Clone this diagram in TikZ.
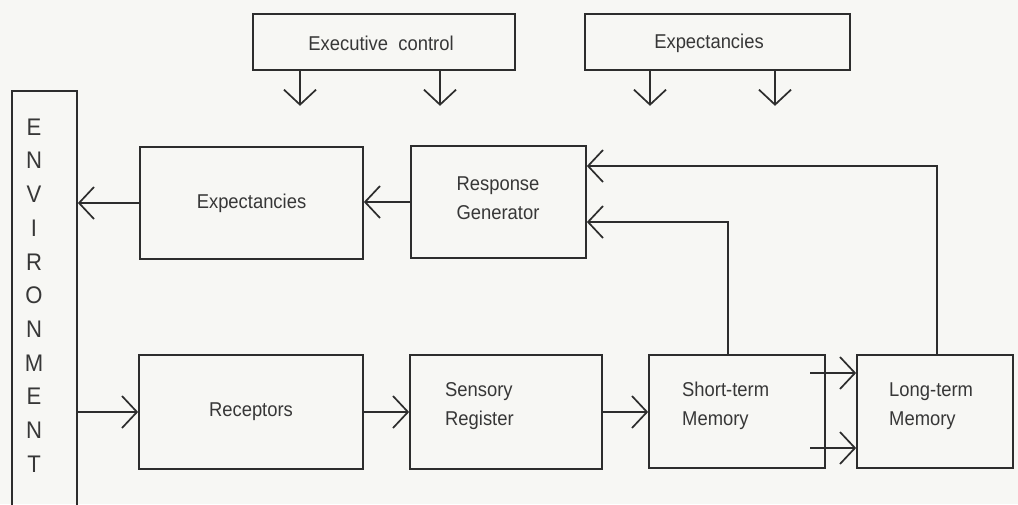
\documentclass[tikz,border=0pt]{standalone}
\usepackage{fontspec}
\setmainfont{Liberation Sans}[FakeStretch=0.92]
\usetikzlibrary{arrows.meta,calc}
\definecolor{ink}{RGB}{45,45,45}
\definecolor{txt}{RGB}{55,55,55}
\definecolor{paper}{RGB}{247,247,244}
\begin{document}
\begin{tikzpicture}[x=1pt,y=-1pt,
  box/.style={draw=ink, line width=1.7pt, inner sep=0pt, text=txt,
    font=\fontsize{20}{29}\selectfont, align=center},
  lbl/.style={text=txt, font=\fontsize{20}{29}\selectfont, inner sep=0pt, align=left},
  clbl/.style={lbl, align=center},
  envlbl/.style={text=txt, font=\fontsize{24}{33.7}\selectfont, inner sep=0pt, align=center},
  arr/.style={draw=ink, line width=1.7pt, -{Straight Barb[length=15pt,width=32pt]}}]

% page
\useasboundingbox (0,0) rectangle (1018,504);
\fill[paper] (0,0) rectangle (1018,504);
\clip (0,0) rectangle (1018,504);

% top row: control sources
\node[box, minimum width=262pt, minimum height=56pt] (exec) at (384,42) {};
\node[clbl] (exectxt) at (381,43) {Executive\ \ control};
\node[box, minimum width=265pt, minimum height=56pt] (expTop) at (717.5,42) {};
\node[clbl] (exptoptxt) at (709,43) {Expectancies};

% environment column
\node[box, minimum width=65pt, minimum height=433pt] (env) at (44.5,307.5) {};
\node[envlbl] (envtxt) at (34,295.5) {E\\N\\V\\I\\R\\O\\N\\M\\E\\N\\T};

% output path
\node[box, minimum width=223pt, minimum height=112pt] (expL) at (251.5,203) {Expectancies};
\node[box, minimum width=175pt, minimum height=112pt] (rg) at (498.5,202) {};
\node[clbl] (rgtxt) at (498,198) {Response\\Generator};

% input path
\node[box, minimum width=224pt, minimum height=114pt] (rec) at (251,412) {Receptors};
\node[box, minimum width=192pt, minimum height=114pt] (sr) at (506,412) {};
\node[lbl, anchor=west] (srtxt) at (445,406) {Sensory\\Register};
\node[box, minimum width=176pt, minimum height=113pt] (stm) at (737,411.5) {};
\node[lbl, anchor=west] (stmtxt) at (682,406) {Short-term\\Memory};
\node[box, minimum width=156pt, minimum height=113pt] (ltm) at (935,411.5) {};
\node[lbl, anchor=west] (ltmtxt) at (889,406) {Long-term\\Memory};

% downward influences
\draw[arr] ([xshift=-84pt]exec.south) -- ++(0,35);
\draw[arr] ([xshift=56pt]exec.south) -- ++(0,35);
\draw[arr] ([xshift=-67.5pt]expTop.south) -- ++(0,35);
\draw[arr] ([xshift=57.5pt]expTop.south) -- ++(0,35);

% response chain
\draw[arr] (expL.west) -- (expL.west -| env.east);
\draw[arr] (rg.west) -- (rg.west -| expL.east);

% stimulus chain
\draw[arr] (rec.west -| env.east) -- (rec.west);
\draw[arr] (rec.east) -- (sr.west);
\draw[arr] (sr.east) -- (sr.east -| stm.west);

% transfer into long-term memory
\coordinate (tr1) at (810,373);
\coordinate (tr2) at (810,448);
\draw[arr] (tr1) -- (tr1 -| ltm.west);
\draw[arr] (tr2) -- (tr2 -| ltm.west);

% memory feedback to response generator
\coordinate (fb1) at (728,222);
\coordinate (fb2) at (937,166);
\draw[arr] (stm.north -| fb1) -- (fb1) -- (fb1 -| rg.east);
\draw[arr] (ltm.north -| fb2) -- (fb2) -- (fb2 -| rg.east);
\end{tikzpicture}
\end{document}
